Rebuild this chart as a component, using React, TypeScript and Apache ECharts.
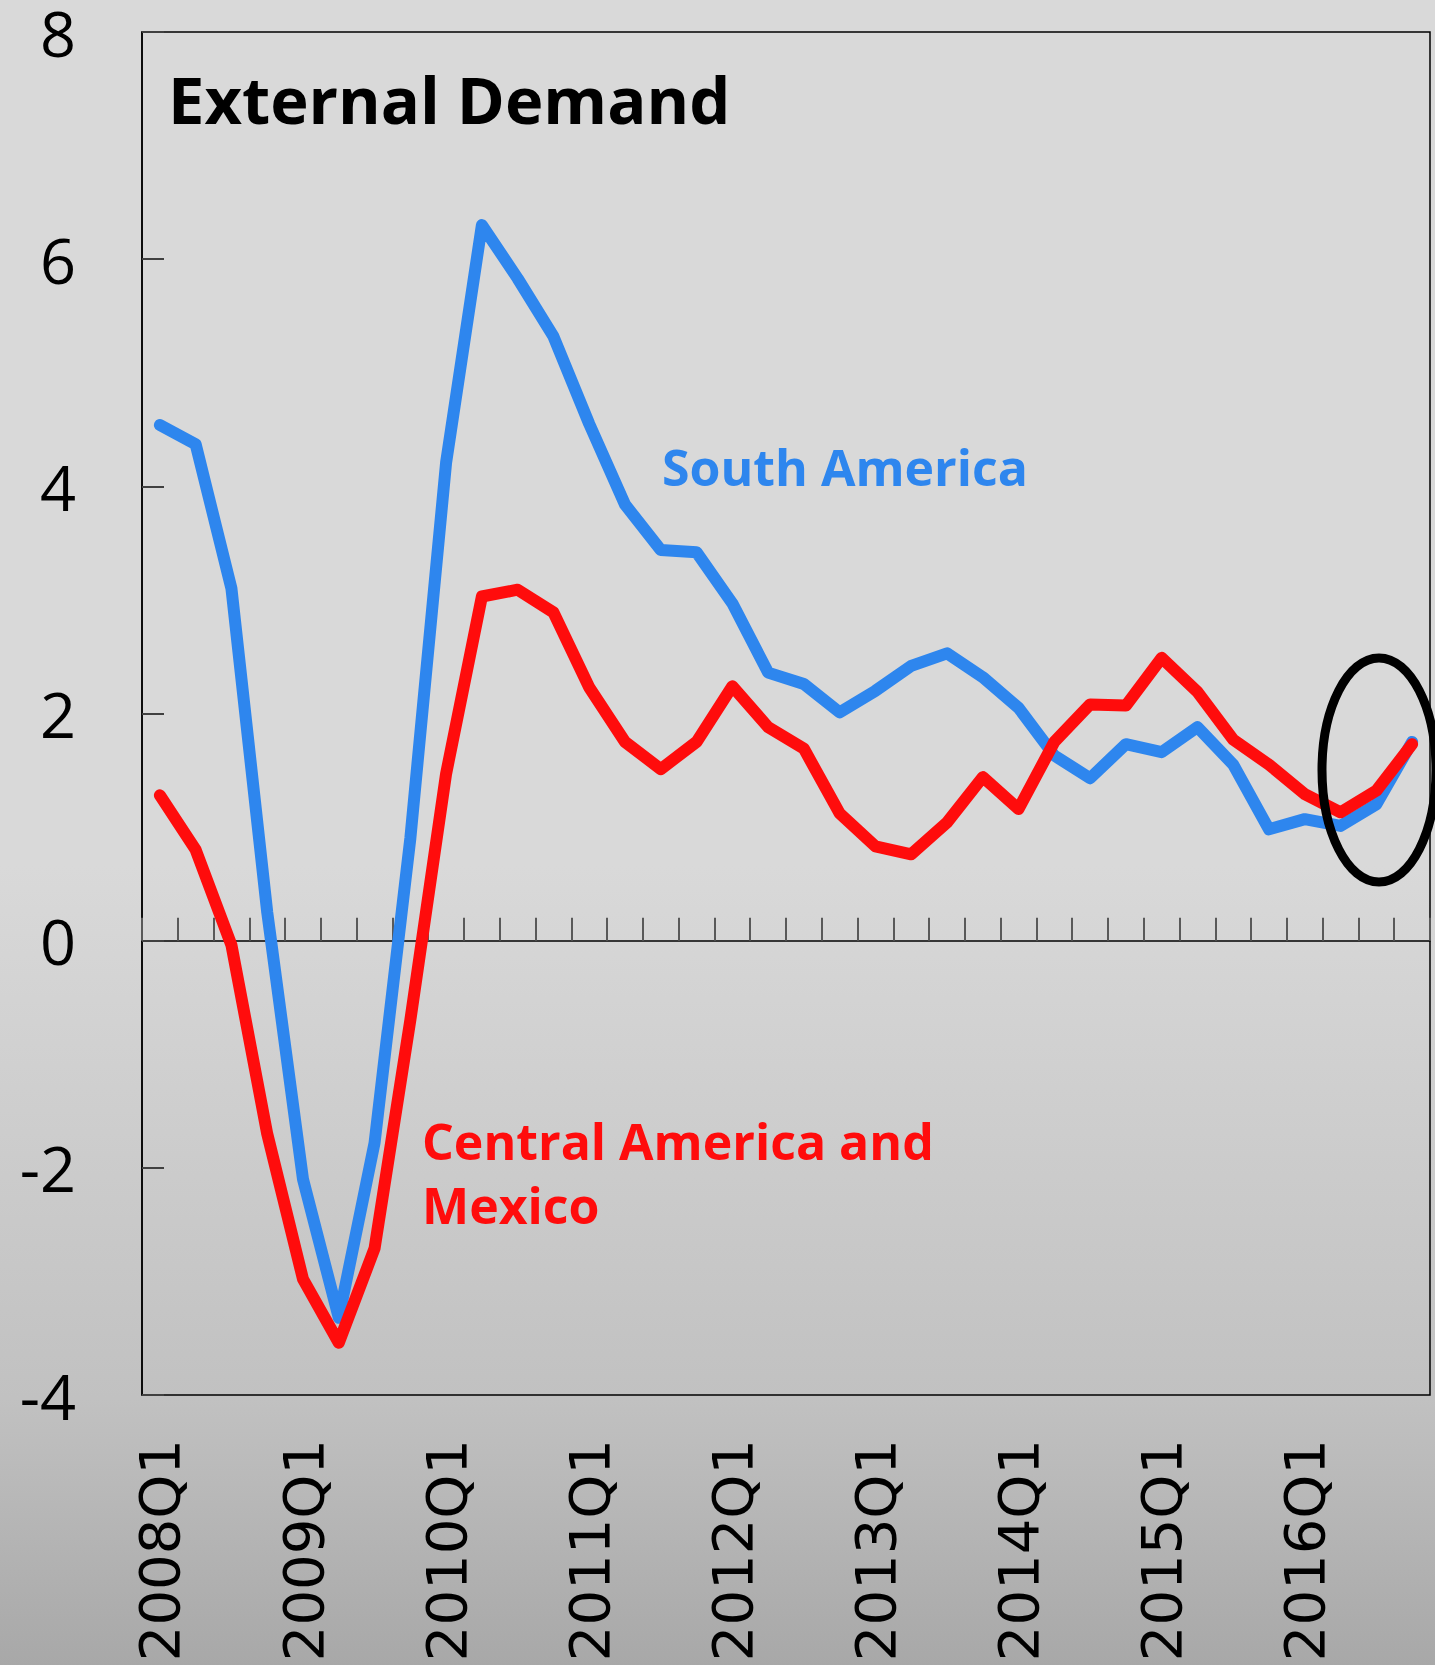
import React, { useEffect, useRef } from "react";
import * as echarts from "echarts";

// Quarterly categories, 2008Q1 – 2016Q4
const quarters = [
  "2008Q1", "2008Q2", "2008Q3", "2008Q4",
  "2009Q1", "2009Q2", "2009Q3", "2009Q4",
  "2010Q1", "2010Q2", "2010Q3", "2010Q4",
  "2011Q1", "2011Q2", "2011Q3", "2011Q4",
  "2012Q1", "2012Q2", "2012Q3", "2012Q4",
  "2013Q1", "2013Q2", "2013Q3", "2013Q4",
  "2014Q1", "2014Q2", "2014Q3", "2014Q4",
  "2015Q1", "2015Q2", "2015Q3", "2015Q4",
  "2016Q1", "2016Q2", "2016Q3", "2016Q4",
];

const southAmerica = [
  4.54, 4.37, 3.1, 0.25, -2.1, -3.32, -1.78, 0.9,
  4.21, 6.3, 5.83, 5.32, 4.55, 3.84, 3.44, 3.42,
  2.97, 2.36, 2.26, 2.01, 2.2, 2.42, 2.53, 2.32,
  2.05, 1.63, 1.43, 1.73, 1.66, 1.88, 1.55, 0.98,
  1.07, 1.01, 1.2, 1.75,
];

const centralAmericaMexico = [
  1.28, 0.8, -0.04, -1.7, -2.98, -3.54, -2.71, -0.7,
  1.47, 3.03, 3.09, 2.89, 2.23, 1.75, 1.51, 1.75,
  2.24, 1.88, 1.69, 1.12, 0.83, 0.76, 1.04, 1.44,
  1.16, 1.75, 2.08, 2.07, 2.49, 2.19, 1.77, 1.55,
  1.29, 1.13, 1.32, 1.73,
];

const yMin = -4;
const yMax = 8;
const yStep = 2;

const BLUE = "#2e86ee";
const RED = "#ff0c0c";

const labelStyle = (text: string, x: number, y: number, size: number, fill: string) => ({
  type: "text",
  z: 50,
  style: {
    text,
    x,
    y,
    font: `bold ${size}px "Open Sans"`,
    fill,
    textAlign: "left",
    textVerticalAlign: "middle",
    align: "left",
    verticalAlign: "middle",
  },
});

export default function App() {
  const ref = useRef<HTMLDivElement>(null);

  useEffect(() => {
    if (!ref.current) return;
    const chart = echarts.init(ref.current, null, { renderer: "svg" });

    chart.setOption({
      animation: false,
      backgroundColor: new echarts.graphic.LinearGradient(0, 0, 0, 1, [
        { offset: 0, color: "#d9d9d9" },
        { offset: 0.52, color: "#d9d9d9" },
        { offset: 0.6, color: "#d3d3d3" },
        { offset: 0.84, color: "#c1c1c1" },
        { offset: 1, color: "#a8a8a8" },
      ]),
      grid: {
        left: 142,
        top: 32,
        right: 5,
        bottom: 270,
        show: true,
        borderColor: "#000",
        borderWidth: 1.5,
        backgroundColor: "transparent",
        containLabel: false,
      },
      xAxis: [
        {
          type: "category",
          data: quarters,
          boundaryGap: true,
          axisLine: { show: true, onZero: true, lineStyle: { color: "#000", width: 1.5 } },
          axisTick: {
            show: true,
            inside: true,
            length: 23,
            interval: 0,
            lineStyle: { color: "#595959", width: 2 },
          },
          axisLabel: { show: false },
          splitLine: { show: false },
        },
        {
          type: "category",
          data: quarters,
          position: "bottom",
          boundaryGap: true,
          axisLine: { show: false, onZero: false },
          axisTick: { show: false },
          splitLine: { show: false },
          axisLabel: {
            interval: 3,
            rotate: 90,
            fontSize: 56,
            fontFamily: "DejaVu Sans",
            color: "#000",
            margin: 44,
          },
        },
      ],
      yAxis: {
        type: "value",
        min: yMin,
        max: yMax,
        interval: yStep,
        axisLine: { show: true, lineStyle: { color: "#000", width: 1.5 } },
        axisTick: {
          show: true,
          inside: true,
          length: 22,
          lineStyle: { color: "#404040", width: 2 },
        },
        axisLabel: {
          fontSize: 63,
          fontFamily: "Open Sans",
          color: "#000",
          margin: 66,
        },
        splitLine: { show: false },
      },
      series: [
        {
          name: "South America",
          type: "line",
          data: southAmerica,
          xAxisIndex: 0,
          symbol: "none",
          z: 2,
          lineStyle: { color: BLUE, width: 12, cap: "round", join: "round" },
        },
        {
          name: "Central America and Mexico",
          type: "line",
          data: centralAmericaMexico,
          xAxisIndex: 0,
          symbol: "none",
          z: 3,
          lineStyle: { color: RED, width: 12, cap: "round", join: "round" },
        },
      ],
      graphic: [
        labelStyle("External Demand", 168, 99, 65, "#000"),
        labelStyle("South America", 662, 467, 50, BLUE),
        labelStyle("Central America and", 422, 1141, 50, RED),
        labelStyle("Mexico", 422, 1205, 50, RED),
        {
          type: "ellipse",
          z: 100,
          shape: { cx: 1379, cy: 770, rx: 57, ry: 112 },
          style: { fill: "none", stroke: "#000", lineWidth: 9 },
        },
      ],
    });

    return () => chart.dispose();
  }, []);

  return (
    <div
      ref={ref}
      style={{ position: "absolute", left: 0, top: 0, width: 1435, height: 1665 }}
    />
  );
}
